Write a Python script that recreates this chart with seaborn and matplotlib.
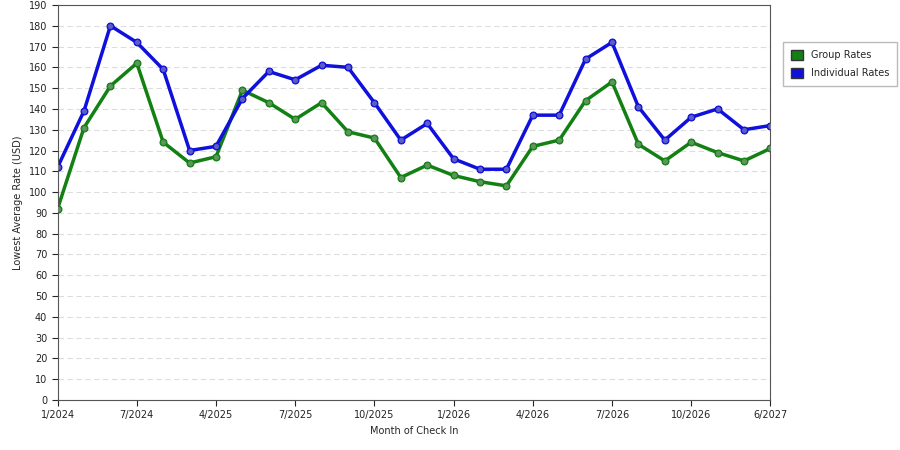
import matplotlib
matplotlib.use("Agg")
import matplotlib.pyplot as plt
import seaborn as sns
import pandas as pd

sns.set_style("white")
plt.rcParams['font.family'] = ['DejaVu Sans']

months = list(range(28))
group_rates = [92, 131, 151, 162, 124, 114, 117, 149, 143, 135, 143, 129, 126, 107,
               113, 108, 105, 103, 122, 125, 144, 153, 123, 115, 124, 119, 115, 121]
indiv_rates = [112, 139, 180, 172, 159, 120, 122, 145, 158, 154, 161, 160, 143, 125,
               133, 116, 111, 111, 137, 137, 164, 172, 141, 125, 136, 140, 130, 132]
tick_pos = [0, 3, 6, 9, 12, 15, 18, 21, 24, 27]
tick_labels = ['1/2024', '7/2024', '4/2025', '7/2025', '10/2025', '1/2026',
               '4/2026', '7/2026', '10/2026', '6/2027']

df = pd.DataFrame({'month': months * 2,
                   'rate': group_rates + indiv_rates,
                   'series': ['Group Rates'] * 28 + ['Individual Rates'] * 28})

fig = plt.figure(figsize=(9, 4.5), dpi=100)
ax = fig.add_axes([0.064, 0.111, 0.792, 0.878])
colors = {'Group Rates': '#138013', 'Individual Rates': '#1010dd'}
sns.lineplot(data=df, x='month', y='rate', hue='series', palette=colors, ax=ax,
             lw=2.5, marker='o', markersize=5, markeredgecolor=None, legend=False)
for s, c in colors.items():
    sub = df[df.series == s]
    ax.scatter(sub.month, sub.rate, s=14, color='#aaaaaa', alpha=0.5, zorder=5, lw=0)

ax.set_xlim(0, 27)
ax.set_ylim(0, 190)
ax.set_yticks(range(0, 191, 10))
ax.set_xticks(tick_pos)
ax.set_xticklabels(tick_labels)
ax.tick_params(labelsize=7, length=4, direction='out', left=True, bottom=True, labelcolor='#222222')
ax.grid(axis='y', ls=(0, (5, 3)), color='#dddddd', lw=0.8)
ax.set_axisbelow(True)
for sp in ax.spines.values():
    sp.set_color('#555555')
    sp.set_linewidth(0.8)
ax.set_xlabel('Month of Check In', fontsize=7)
ax.set_ylabel('Lowest Average Rate (USD)', fontsize=7)

handles = [plt.Rectangle((0, 0), 1, 1, facecolor=c, edgecolor='#333333') for c in colors.values()]
leg = fig.legend(handles, list(colors.keys()), loc='upper left', bbox_to_anchor=(0.865, 0.918),
                 fontsize=7, frameon=True, fancybox=False, handlelength=1.2, handleheight=1.2,
                 borderpad=0.8, labelspacing=0.8)
leg.get_frame().set_edgecolor('#aaaaaa')

fig.savefig('out.png', dpi=100)
